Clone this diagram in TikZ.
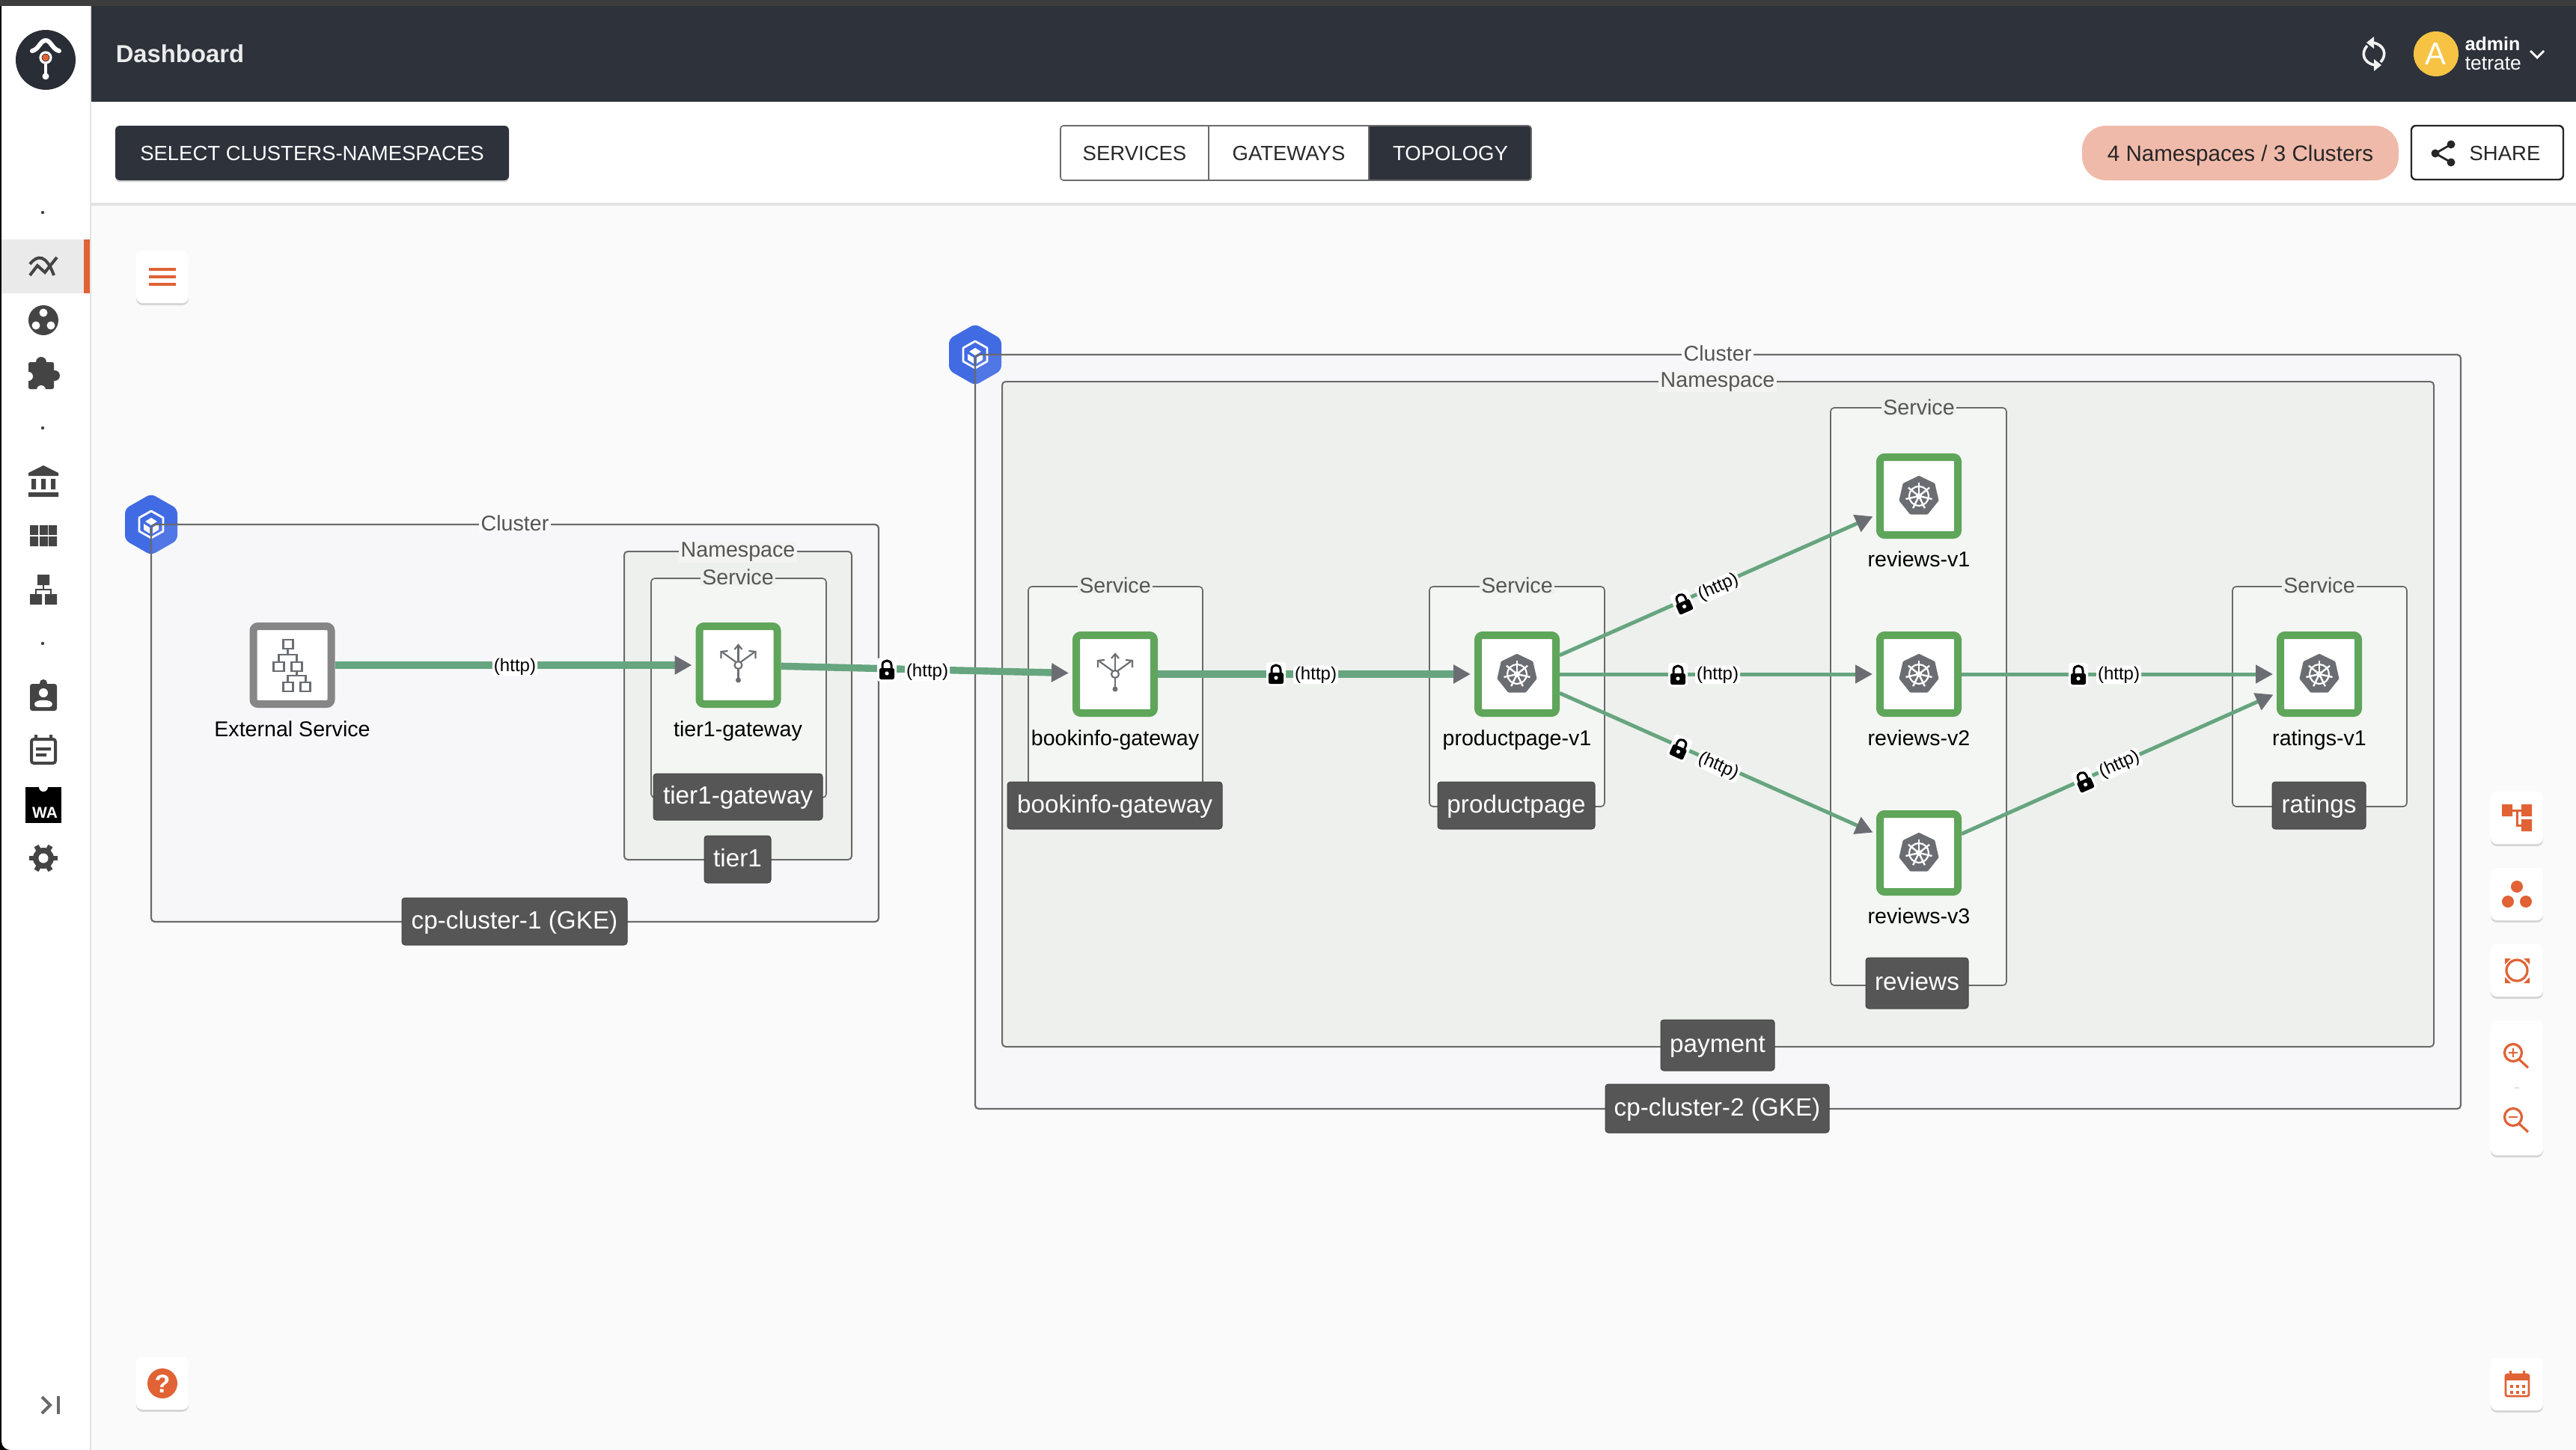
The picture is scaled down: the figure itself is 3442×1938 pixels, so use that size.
\documentclass[tikz,border=0pt]{standalone}
\usepackage{fontspec}
\setmainfont{Liberation Sans}
\usetikzlibrary{arrows.meta,shadows}
\definecolor{header}{HTML}{2D323B}
\definecolor{topstrip}{HTML}{3D3D3D}
\definecolor{canvas}{HTML}{FAFAFA}
\definecolor{divider}{HTML}{E2E2E2}
\definecolor{orangeui}{HTML}{E06235}
\definecolor{iconink}{HTML}{444444}
\definecolor{activerow}{HTML}{EAEAEA}
\definecolor{pill}{HTML}{F0BAAA}
\definecolor{avatar}{HTML}{F6C344}
\definecolor{hexblue}{HTML}{416BE3}
\definecolor{boxline}{HTML}{6A6A6A}
\definecolor{clustertint}{HTML}{E6DFFA}
\definecolor{nsfill}{HTML}{EEF0ED}
\definecolor{svcfill}{HTML}{F4F6F3}
\definecolor{tagfill}{HTML}{565656}
\definecolor{nodegreen}{HTML}{5FA55A}
\definecolor{nodegray}{HTML}{868686}
\definecolor{edgegreen}{HTML}{66A57F}
\definecolor{headgray}{HTML}{6A6E73}
\definecolor{titleink}{HTML}{555555}
\def\fs#1{\pgfmathsetmacro\fsz{#1*.25}\fontsize{\fsz pt}{\fsz pt}\selectfont}
\tikzset{
  x=.25pt,y=-.25pt,
  clusterbox/.style={draw=boxline,line width=.55pt,fill=clustertint,fill opacity=.1,draw opacity=1,rounded corners=1.2pt},
  nsbox/.style={draw=boxline,line width=.5pt,fill=nsfill,rounded corners=1.2pt},
  svcbox/.style={draw=boxline,line width=.42pt,fill=svcfill,rounded corners=1.2pt},
  boxtitle/.style={font=\fs{28.6},text=titleink,fill=canvas,inner xsep=.6pt,inner ysep=.2pt},
  boxtag/.style={fill=tagfill,draw=iconink,line width=.25pt,rounded corners=1pt,text=white,font=\fs{33.3},inner sep=0pt,anchor=center,text height=5.95pt,text depth=1pt},
  wlnode/.style={draw=nodegreen,line width=2.5pt,fill=white,rounded corners=1.5pt,minimum size=26pt,inner sep=0pt},
  extnode/.style={wlnode,draw=nodegray},
  nodelabel/.style={font=\fs{28.6},text=black,inner sep=0pt,text height=5.15pt,text depth=0pt},
  httplabel/.style={font=\fs{24},text=black,fill=white,inner xsep=.5pt,inner ysep=.3pt,rounded corners=1pt},
  edgebase/.style={draw=edgegreen,shorten >=1.25pt,-{Triangle[length=5.75pt,width=6pt,color=headgray]}},
  thickedge/.style={edgebase,line width=2.35pt},
  thinedge/.style={edgebase,line width=1.25pt},
  uibtn/.style={font=\fs{27.5},inner sep=0pt,text height=5pt,text depth=0pt},
  card/.style={fill=white,rounded corners=2pt,drop shadow={shadow xshift=0pt,shadow yshift=-.7pt,opacity=.3}},
  kubeicon/.pic={
    \fill[headgray,draw=headgray,line width=1pt,line join=round] (-90:25) \foreach \i in {1,...,6}{ -- (-90+\i*51.43:25)} -- cycle;
    \draw[white,line width=.55pt] (0,0) circle[radius=13];
    \foreach \i in {0,...,6}{\draw[white,line width=.6pt] (0,0) -- (-90+\i*51.43:18);}
    \fill[white] (0,0) circle[radius=4];
  },
  gwicon/.pic={
    \draw[headgray,line width=.55pt] (0,0) circle[radius=5];
    \draw[headgray,line width=.55pt] (0,-5) -- (0,-26);
    \draw[headgray,line width=.55pt] (-3,-4) -- (-21,-17);
    \draw[headgray,line width=.55pt] (3,-4) -- (21,-17);
    \draw[headgray,line width=.55pt] (-5,-21) -- (0,-27) -- (5,-21);
    \draw[headgray,line width=.55pt] (-23,-9) -- (-23,-18) -- (-14,-19);
    \draw[headgray,line width=.55pt] (23,-9) -- (23,-18) -- (14,-19);
    \draw[headgray,line width=.55pt] (0,5) -- (0,20);
    \fill[headgray] (0,20) circle[radius=3.5];
  },
  exticon/.pic={
    \draw[headgray,line width=.7pt] (-12,-34) rectangle (1,-22);
    \draw[headgray,line width=.7pt] (-25,-4) rectangle (-11,8);
    \draw[headgray,line width=.7pt] (-1,-4) rectangle (13,8);
    \draw[headgray,line width=.7pt] (-12,23) rectangle (1,35);
    \draw[headgray,line width=.7pt] (11,23) rectangle (24,35);
    \draw[headgray,line width=.6pt] (-6,-22) -- (-6,-14) (-18,-4) -- (-18,-14) -- (6,-14) -- (6,-4);
    \draw[headgray,line width=.6pt] (6,8) -- (6,14) (-6,23) -- (-6,14) -- (18,14) -- (18,23);
  },
  hexicon/.pic={
    \fill[hexblue,rounded corners=1.6pt] (0,-41) -- (35,-21) -- (35,21) -- (0,41) -- (-35,21) -- (-35,-21) -- cycle;
    \draw[white,line width=.7pt,line join=round] (0,-18) -- (16,-9) -- (16,9) -- (0,18) -- (-16,9) -- (-16,-9) -- cycle;
    \fill[white] (0,-9) -- (8,-4) -- (0,1) -- (-8,-4) -- cycle;
    \fill[white] (-10,-1) -- (-2,4) -- (-2,12) -- (-10,7) -- cycle;
    \fill[white] (10,-1) -- (2,4) -- (2,12) -- (10,7) -- cycle;
  },
  lockicon/.pic={
    \fill[white,rounded corners=1pt] (-13,-17) rectangle (13,15);
    \draw[black,line width=.75pt] (-6,-3) -- (-6,-7) .. controls (-6,-15) and (6,-15) .. (6,-7) -- (6,-3);
    \fill[black,rounded corners=.6pt] (-10,-3) rectangle (10,12);
    \fill[white] (0,4) circle[radius=2.6];
  }
}
\begin{document}
\begin{tikzpicture}
\useasboundingbox (0,0) rectangle (3442,1938);
% ---------- application frame
\fill[black] (0,0) rectangle (3442,1938);
\fill[white,rounded corners=3pt] (2,8) rectangle (3442,1938);
\fill[white] (2,8) rectangle (3442,40);
\fill[white] (100,8) rectangle (3442,1938);
\fill[topstrip] (0,0) rectangle (3442,8);
\fill[canvas] (122,273) rectangle (3442,1938);
\fill[divider] (120,8) rectangle (122,1938);
\fill[divider] (122,271) rectangle (3442,275);
\fill[header] (122,8) rectangle (3442,136);
\node[font=\bfseries\fs{32.8},text=white!92!black,inner sep=0pt,anchor=west] (title) at (154,72) {Dashboard};
% logo
\fill[header!90!black] (61,80) circle[radius=40];
\draw[white,line width=1.5pt,line cap=round] (43,68) .. controls (52,66) and (54,54) .. (61,54) .. controls (68,54) and (70,66) .. (79,68);
\draw[white,line width=.8pt] (61,77) circle[radius=7];
\fill[orangeui] (61,77) circle[radius=4.6];
\draw[white,line width=1pt] (61,85) -- (61,102);
\fill[white] (61,102) circle[radius=4.5];
% sidebar
\fill[activerow] (2,320) rectangle (112,392);
\fill[orangeui] (112,320) rectangle (120,392);
\foreach \dy in {284,572,860}{\fill[iconink] (57,\dy) circle[radius=2.2];}
\draw[iconink,line width=1pt] (40,368) -- (50,355) -- (60,364) -- (76,344);
\draw[iconink,line width=1pt] (40,353) .. controls (50,340) and (62,340) .. (72,368);
\fill[iconink] (58,428) circle[radius=20];
\fill[white] (58,418) circle[radius=5.5] (48,435) circle[radius=5.5] (68,435) circle[radius=5.5];
\fill[iconink,rounded corners=.6pt] (38,484) rectangle (72,520);
\fill[iconink] (55,484) circle[radius=7] (73,502) circle[radius=7];
\fill[white] (38,503) circle[radius=6] (55,521) circle[radius=6];
\fill[iconink] (58,622) -- (78,632) -- (78,636) -- (38,636) -- (38,632) -- cycle;
\fill[iconink] (42,640) rectangle (48,654) (55,640) rectangle (61,654) (68,640) rectangle (74,654) (38,658) rectangle (78,664);
\fill[iconink] (40,702) rectangle (51,715) (53,702) rectangle (64,715) (65,702) rectangle (76,715);
\fill[iconink] (40,717) rectangle (51,730) (53,717) rectangle (64,730) (65,717) rectangle (76,730);
\fill[iconink] (50,768) rectangle (66,782) (40,794) rectangle (56,808) (60,794) rectangle (76,808);
\draw[iconink,line width=.5pt] (58,782) -- (58,788) (48,794) -- (48,788) -- (68,788) -- (68,794);
\fill[iconink,rounded corners=.8pt] (40,914) rectangle (76,950);
\fill[iconink] (58,913) circle[radius=5];
\fill[white] (58,926) circle[radius=6];
\fill[white,rounded corners=1pt] (46,945) .. controls (46,934) and (70,934) .. (70,945) -- cycle;
\fill[iconink] (46,982) rectangle (50,990) (66,982) rectangle (70,990);
\draw[iconink,line width=1pt,fill=white,rounded corners=.8pt] (42,988) rectangle (74,1020);
\fill[iconink] (48,999) rectangle (68,1003) (48,1007) rectangle (62,1011);
\fill[black] (34,1052) rectangle (82,1100);
\fill[white] (58,1052) circle[radius=6];
\node[font=\bfseries\fs{21},text=white,inner sep=0pt] (walabel) at (60,1086) {WA};
\foreach \a in {0,60,120}{\draw[iconink,line width=1.7pt,shift={(58,1147)}] (\a:19) -- (\a+180:19);}
\fill[iconink] (58,1147) circle[radius=14];
\fill[white] (58,1147) circle[radius=6.5];
\draw[iconink!80,line width=1pt] (56,1867) -- (67,1878) -- (56,1889);
\fill[iconink!80] (76,1866) rectangle (80,1890);
% ---------- toolbar
\node[fill=header,rounded corners=1.5pt,minimum width=131.5pt,minimum height=18.25pt,inner sep=0pt,text=white,uibtn,drop shadow={shadow xshift=0pt,shadow yshift=-.6pt,opacity=.3}] (select) at (417,204.5) {SELECT CLUSTERS-NAMESPACES};
\fill[header,rounded corners=1pt] (1829,168) rectangle (2046,241);
\draw[boxline,line width=.4pt,rounded corners=1pt] (1417,168) rectangle (2046,241);
\draw[boxline,line width=.4pt] (1615,168) -- (1615,241);
\draw[boxline,line width=.4pt] (1829,168) -- (1829,241);
\node[uibtn,text=iconink!60!black] (tabsvc) at (1516,204.5) {SERVICES};
\node[uibtn,text=iconink!60!black] (tabgw) at (1722,204.5) {GATEWAYS};
\node[uibtn,text=white] (tabtopo) at (1938,204.5) {TOPOLOGY};
\node[fill=pill,rounded corners=8pt,minimum width=105.75pt,minimum height=18.25pt,inner sep=0pt,text=black!85,font=\fs{29.6},text height=5.3pt,text depth=0pt] (pillnode) at (2993.5,204.5) {4 Namespaces / 3 Clusters};
\draw[black!85,line width=.6pt,rounded corners=1.5pt,fill=white] (3222,168) rectangle (3425,240);
\node[uibtn,text=black!85] (sharetext) at (3347,204.5) {SHARE};
\draw[black!85,line width=.7pt] (3275,193) -- (3254,205) -- (3275,217);
\fill[black!85] (3275,193) circle[radius=5.5] (3254,205) circle[radius=5.5] (3275,217) circle[radius=5.5];
% header right
\draw[white!95!black,line width=.9pt] (3181,83) .. controls (3190,73) and (3186,60) .. (3171,57);
\fill[white!95!black] (3172,49) -- (3172,65) -- (3162,57) -- cycle;
\draw[white!95!black,line width=.9pt] (3163,61) .. controls (3154,71) and (3158,84) .. (3173,87);
\fill[white!95!black] (3172,79) -- (3172,95) -- (3182,87) -- cycle;
\fill[avatar] (3255,72) circle[radius=30];
\node[font=\fs{42},text=white,inner sep=0pt] (avatarletter) at (3254,72) {A};
\node[font=\bfseries\fs{25},text=white,inner sep=0pt,anchor=west] (adminname) at (3293,59) {admin};
\node[font=\fs{26.5},text=white,inner sep=0pt,anchor=west] (adminorg) at (3293,85) {tetrate};
\draw[white,line width=.7pt] (3381,68) -- (3390,77) -- (3399,68);
% ---------- floating cards
\fill[card] (182,335) rectangle (252,405);
\foreach \ly in {360,370,380}{\fill[orangeui] (199,\ly-2) rectangle (235,\ly+2);}
\fill[card] (182,1814) rectangle (252,1884);
\fill[orangeui] (217,1849) circle[radius=20];
\node[font=\bfseries\fs{34},text=white,inner sep=0pt] (helpmark) at (217,1850) {?};
\fill[card] (3328,1058) rectangle (3398,1128);
\fill[orangeui] (3343,1075) rectangle (3357,1091) (3369,1075) rectangle (3383,1091) (3369,1095) rectangle (3383,1111);
\draw[orangeui,line width=.75pt] (3357,1083) -- (3369,1083) (3363,1083) -- (3363,1103) -- (3369,1103);
\fill[card] (3328,1160) rectangle (3398,1230);
\fill[orangeui] (3363,1185) circle[radius=8] (3351,1205) circle[radius=8] (3375,1205) circle[radius=8];
\fill[card] (3328,1262) rectangle (3398,1332);
\draw[orangeui,line width=.8pt] (3363,1297) circle[radius=14];
\fill[orangeui] (3347,1281) -- (3355,1281) -- (3347,1289) -- cycle (3380,1281) -- (3372,1281) -- (3380,1289) -- cycle (3347,1314) -- (3355,1314) -- (3347,1306) -- cycle (3380,1314) -- (3372,1314) -- (3380,1306) -- cycle;
\fill[card] (3328,1364) rectangle (3398,1544);
\draw[orangeui,line width=.8pt] (3358,1407) circle[radius=11.5] (3366,1416) -- (3378,1427);
\draw[orangeui,line width=.5pt] (3352,1407) -- (3364,1407) (3358,1401) -- (3358,1413);
\fill[divider] (3360,1453) rectangle (3366,1455);
\draw[orangeui,line width=.8pt] (3358,1493) circle[radius=11.5] (3366,1502) -- (3378,1513);
\draw[orangeui,line width=.5pt] (3352,1493) -- (3364,1493);
\fill[card] (3328,1815) rectangle (3398,1885);
\draw[orangeui,line width=.7pt,rounded corners=.6pt] (3348,1837) rectangle (3379,1866);
\fill[orangeui] (3348,1837) rectangle (3379,1845);
\fill[orangeui] (3353,1832) rectangle (3356,1839) (3371,1832) rectangle (3374,1839);
\foreach \px in {3354,3362,3370}{\foreach \py in {1851,1859}{\fill[orangeui] (\px,\py) rectangle (\px+4,\py+4);}}
% ---------- cluster 1
\pic at (202,701) {hexicon};
\draw[clusterbox] (202,701) rectangle (1174,1232);
\draw[nsbox] (834,737) rectangle (1138,1149);
\draw[svcbox] (870,773) rectangle (1104,1066);
\node[boxtitle] (c1title) at (688,699) {Cluster};
\node[boxtitle,fill=nsfill!50!canvas] (ns1title) at (986,738) {Namespace};
\node[boxtitle,fill=nsfill] (s1title) at (986,771) {Service};
% ---------- cluster 2
\pic at (1303,474) {hexicon};
\draw[clusterbox] (1303,474) rectangle (3288,1482);
\draw[nsbox] (1339,510) rectangle (3252,1399);
\draw[svcbox] (1374,784) rectangle (1607,1078);
\draw[svcbox] (1910,784) rectangle (2144,1078);
\draw[svcbox] (2446,545) rectangle (2681,1317);
\draw[svcbox] (2983,784) rectangle (3216,1078);
\node[boxtitle] (c2title) at (2295,472) {Cluster};
\node[boxtitle,fill=nsfill!50!canvas] (ns2title) at (2295,510.5) {Namespace};
\node[boxtitle,fill=nsfill] (s2title) at (1490,782) {Service};
\node[boxtitle,fill=nsfill] (s3title) at (2027,782) {Service};
\node[boxtitle,fill=nsfill] (s4title) at (2564,544) {Service};
\node[boxtitle,fill=nsfill] (s5title) at (3099,782) {Service};
% ---------- workload nodes
\node[extnode] (ext) at (390.5,889) {};
\node[wlnode] (tgw) at (986.5,889) {};
\node[wlnode] (book) at (1490,901) {};
\node[wlnode] (prod) at (2027,901) {};
\node[wlnode] (rev1) at (2564,663) {};
\node[wlnode] (rev2) at (2564,901) {};
\node[wlnode] (rev3) at (2564,1140) {};
\node[wlnode] (rate) at (3099,901) {};
\pic at (ext) {exticon};
\pic at (tgw) {gwicon};
\pic at (book) {gwicon};
\foreach \n in {prod,rev1,rev2,rev3,rate}{\pic at (\n) {kubeicon};}
\node[nodelabel] (extl) at (390.5,974) {External Service};
\node[nodelabel] (tgwl) at (986,974) {tier1-gateway};
\node[nodelabel] (bookl) at (1490,986) {bookinfo-gateway};
\node[nodelabel] (prodl) at (2027,986) {productpage-v1};
\node[nodelabel] (rev1l) at (2564,747) {reviews-v1};
\node[nodelabel] (rev2l) at (2564,986) {reviews-v2};
\node[nodelabel] (rev3l) at (2564,1224) {reviews-v3};
\node[nodelabel] (ratel) at (3099,986) {ratings-v1};
% ---------- connectors
\draw[thickedge] (ext) -- (tgw);
\draw[thickedge] (tgw) -- (book);
\draw[thickedge] (book) -- (prod);
\draw[thinedge] (prod) -- (rev1);
\draw[thinedge] (prod) -- (rev2);
\draw[thinedge] (prod) -- (rev3);
\draw[thinedge] (rev2) -- (rate);
\draw[thinedge] (rev3) -- (rate);
% edge labels
\node[httplabel] (h1) at (688,891) {(http)};
\node[httplabel] (h2) at (1239,898) {(http)};
\node[httplabel] (h3) at (1758,902) {(http)};
\node[httplabel,rotate=24] (h4) at (2296,785) {(http)};
\node[httplabel] (h5) at (2295,902) {(http)};
\node[httplabel,rotate=-24] (h6) at (2296,1024) {(http)};
\node[httplabel] (h7) at (2831,902) {(http)};
\node[httplabel,rotate=24] (h8) at (2832,1022) {(http)};
\pic at (1185,896) {lockicon};
\pic at (1705,902) {lockicon};
\pic[rotate=24] at (2249,807) {lockicon};
\pic at (2242,903) {lockicon};
\pic[rotate=-24] at (2244,1001) {lockicon};
\pic at (2777,903) {lockicon};
\pic[rotate=24] at (2785,1045) {lockicon};
% ---------- tags
\node[boxtag,minimum width=56.5pt,minimum height=15.5pt] (t1) at (986,1065) {tier1-gateway};
\node[boxtag,minimum width=22.25pt,minimum height=15.75pt] (t2) at (985.5,1148.5) {tier1};
\node[boxtag,minimum width=75.25pt,minimum height=15.75pt] (t3) at (687.5,1231.5) {cp-cluster-1 (GKE)};
\node[boxtag,minimum width=71.75pt,minimum height=15.75pt] (t4) at (1489.5,1076.5) {bookinfo-gateway};
\node[boxtag,minimum width=52.5pt,minimum height=15.75pt] (t5) at (2026,1076.5) {productpage};
\node[boxtag,minimum width=34.25pt,minimum height=17pt] (t6) at (2561.5,1314) {reviews};
\node[boxtag,minimum width=31.25pt,minimum height=15.75pt] (t7) at (3098.5,1076.5) {ratings};
\node[boxtag,minimum width=38pt,minimum height=17pt] (t8) at (2295,1397) {payment};
\node[boxtag,minimum width=74.75pt,minimum height=16.25pt] (t9) at (2294.5,1481.5) {cp-cluster-2 (GKE)};
\end{tikzpicture}
\end{document}
